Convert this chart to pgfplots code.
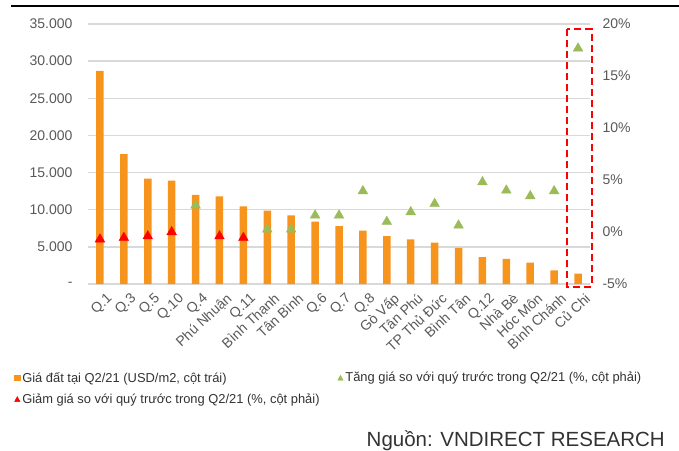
\documentclass[border=0pt]{standalone}
\usepackage{pgfplots}
\pgfplotsset{compat=1.18}
\usepackage{pgfplotstable}
\usepackage{fontspec}
\setmainfont{Liberation Sans}
\newfontfamily\plainfont{Liberation Sans}
\definecolor{barorange}{RGB}{247,148,29}
\definecolor{upgreen}{RGB}{155,187,89}
\definecolor{gridgray}{RGB}{217,217,217}
\definecolor{tickgray}{RGB}{89,89,89}
\definecolor{legtext}{RGB}{50,50,50}

\pgfplotstableread{
x val
0 28700
1 17500
2 14200
3 13900
4 12000
5 11800
6 10450
7 9870
8 9250
9 8400
10 7800
11 7200
12 6460
13 6010
14 5560
15 4850
16 3630
17 3370
18 2870
19 1840
20 1390
}\bars

\pgfplotstableread{
x pct
4 2.57
7 0.26
8 0.26
9 1.6
10 1.6
11 3.94
12 0.99
13 1.92
14 2.72
15 0.64
16 4.8
17 4.0
18 3.46
19 3.94
20 17.66
}\up

\pgfplotstableread{
x pct
0 -0.7
1 -0.55
2 -0.4
3 0.0
5 -0.4
6 -0.55
}\down

\begin{document}
\begin{tikzpicture}[x=1pt,y=1pt]
\useasboundingbox (0,0) rectangle (679,450);
\draw[black, line width=1.3pt] (11,444) -- (679,444);

\begin{axis}[
  at={(88pt,166pt)}, anchor=south west,
  scale only axis, width=502pt, height=260pt,
  xmin=-0.5, xmax=20.5, ymin=0, ymax=35000,
  scaled y ticks=false,
  axis line style={draw=none},
  tick style={draw=none},
  ymajorgrids, grid style={gridgray, line width=1.5pt},
  ytick={0,5000,10000,15000,20000,25000,30000,35000},
  yticklabels={-,5.000,10.000,15.000,20.000,25.000,30.000,35.000},
  yticklabel style={font=\fontsize{14}{16}\selectfont, text=tickgray, xshift=-12pt},
  xtick={0,...,20},
  xticklabels={Q.1,Q.3,Q.5,Q.10,Q.4,Phú Nhuận,Q.11,Bình Thạnh,Tân Bình,Q.6,Q.7,Q.8,Gò Vấp,Tân Phú,TP Thủ Đức,Bình Tân,Q.12,Nhà Bè,Hóc Môn,Bình Chánh,Củ Chi},
  xticklabel style={font=\plainfont\fontsize{14}{16}\selectfont, text=tickgray, xshift=6pt, yshift=-8pt, rotate=43, anchor=north east, inner sep=0pt},
  clip=false,
]
\addplot[ybar, bar width=7.5pt, fill=barorange, draw=none] table[x=x,y=val]{\bars};
\draw[red, dash pattern=on 7pt off 4pt, line width=1.8pt] (axis cs:19.53,34290) rectangle (axis cs:20.57,-360);
\end{axis}

\begin{axis}[
  at={(88pt,166pt)}, anchor=south west,
  scale only axis, width=502pt, height=260pt,
  xmin=-0.5, xmax=20.5, ymin=-5, ymax=20,
  axis y line*=right, axis x line=none,
  axis line style={draw=none},
  tick style={draw=none},
  ytick={-5,0,5,10,15,20},
  yticklabels={-5\%,0\%,5\%,10\%,15\%,20\%},
  yticklabel style={font=\fontsize{14}{16}\selectfont, text=tickgray, xshift=9pt},
  clip=false,
  legend columns=2,
  legend style={draw=none, fill=none, at={(-0.153,-0.323)}, anchor=north west,
    font=\plainfont\fontsize{12.9}{15}\selectfont, text=legtext,
    /tikz/every even column/.append style={column sep=16pt}, row sep=6pt},
  legend cell align=left,
]
\addlegendimage{legend image code/.code={\fill[barorange] (0pt,-2.8pt) rectangle (5.5pt,2.8pt);}}
\addlegendentry{Giá đất tại Q2/21 (USD/m2, cột trái)}
\addplot[only marks, mark=triangle*, mark size=5.6pt, color=upgreen,
  legend image code/.code={\fill[upgreen] (0pt,-2.4pt) -- (5.4pt,-2.4pt) -- (2.7pt,2.6pt) -- cycle;}]
  table[x=x,y=pct]{\up};
\addlegendentry{Tăng giá so với quý trước trong Q2/21 (\%, cột phải)}
\addplot[only marks, mark=triangle*, mark size=5.6pt, color=red,
  legend image code/.code={\fill[red] (0pt,-2.4pt) -- (5.4pt,-2.4pt) -- (2.7pt,2.6pt) -- cycle;}]
  table[x=x,y=pct]{\down};
\addlegendentry{Giảm giá so với quý trước trong Q2/21 (\%, cột phải)}
\end{axis}

\node[anchor=base east, inner sep=0pt, font=\plainfont\fontsize{20.5}{24}\selectfont, text=legtext] at (665,4) {Nguồn: VNDIRECT RESEARCH};
\end{tikzpicture}
\end{document}
